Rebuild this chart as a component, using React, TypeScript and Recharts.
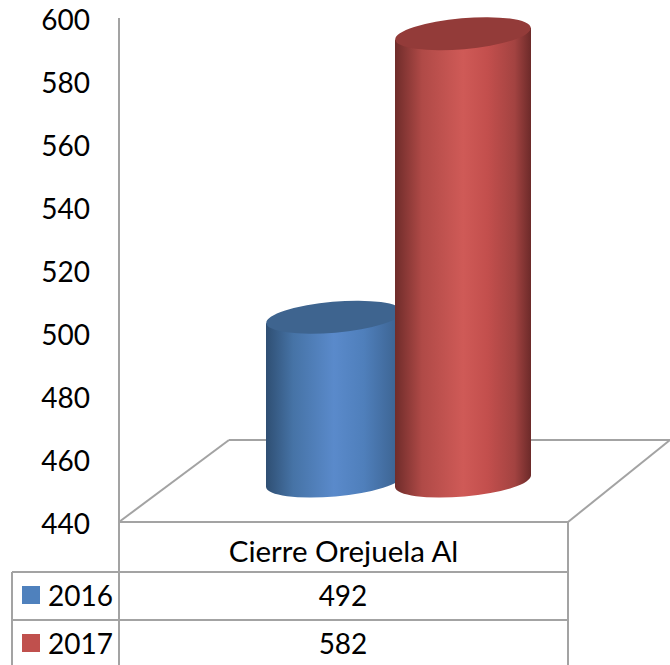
import React from "react";
import { BarChart, Bar, XAxis, YAxis } from "recharts";

const categories = ["Cierre Orejuela Al"];
const series2016 = [492];
const series2017 = [582];
const yTicks = [440, 460, 480, 500, 520, 540, 560, 580, 600];

const data = categories.map((name, i) => ({
  name,
  s2016: series2016[i],
  s2017: series2017[i],
}));

const FONT = "Lato, sans-serif";
const GRID = "#a3a3a3";
// 3D look: the bars sit in the middle of the floor, not on the front edge
const DEPTH_X = 55;
const DEPTH_Y = -41;
const TILT = 6;

const Cylinder = (props: any) => {
  const { x, y, width, height, gradient, topColor } = props;
  const left = x + DEPTH_X;
  const right = left + width;
  const top = y + DEPTH_Y;
  const bottom = top + height;
  const rx = width / 2;
  const ry = 15.5;
  const body = `M${left},${top + TILT} L${left},${bottom + TILT} A${rx},${ry} -5 0 0 ${right},${bottom - TILT} L${right},${top - TILT} Z`;
  return (
    <g>
      <path d={body} fill={`url(#${gradient})`} />
      <ellipse
        cx={left + rx}
        cy={top}
        rx={rx}
        ry={ry}
        fill={topColor}
        transform={`rotate(-5 ${left + rx} ${top})`}
      />
    </g>
  );
};

const Line = (p: { x1: number; y1: number; x2: number; y2: number }) => (
  <line {...p} stroke={GRID} strokeWidth={2} />
);

export default function App() {
  return (
    <div style={{ position: "absolute", left: 0, top: 0, width: 670, height: 665, background: "#fff" }}>
      <BarChart
        width={670}
        height={665}
        data={data}
        margin={{ top: 18, right: 102, bottom: 0, left: 0 }}
        barSize={136}
        barGap={-7}
      >
        <defs>
          <linearGradient id="blueBody" x1="0" y1="0" x2="1" y2="0">
            <stop offset="0" stopColor="#2f4f73" />
            <stop offset="0.2" stopColor="#4673a6" />
            <stop offset="0.5" stopColor="#5a8acb" />
            <stop offset="0.72" stopColor="#4f7fbb" />
            <stop offset="1" stopColor="#3a608c" />
          </linearGradient>
          <linearGradient id="redBody" x1="0" y1="0" x2="1" y2="0">
            <stop offset="0" stopColor="#6f2c2a" />
            <stop offset="0.2" stopColor="#b04a47" />
            <stop offset="0.5" stopColor="#cf5a57" />
            <stop offset="0.68" stopColor="#c34f4d" />
            <stop offset="0.88" stopColor="#a34341" />
            <stop offset="1" stopColor="#6c2a29" />
          </linearGradient>
        </defs>

        {/* floor */}
        <Line x1={119} y1={522} x2={229} y2={440} />
        <Line x1={229} y1={440} x2={670} y2={440} />
        <Line x1={568} y1={522} x2={670} y2={440} />

        {/* data table */}
        <Line x1={119} y1={522} x2={119} y2={665} />
        <Line x1={568} y1={522} x2={568} y2={665} />
        <Line x1={12} y1={572} x2={12} y2={665} />
        <Line x1={12} y1={572} x2={568} y2={572} />
        <Line x1={12} y1={620} x2={568} y2={620} />
        <rect x={22} y={586} width={18} height={18} fill="#4f81bd" />
        <rect x={22} y={634} width={18} height={18} fill="#c0504d" />
        <text x={48} y={606} fontFamily={FONT} fontSize={28} fill="#000">2016</text>
        <text x={48} y={654} fontFamily={FONT} fontSize={28} fill="#000">2017</text>
        <text x={343} y={606} textAnchor="middle" fontFamily={FONT} fontSize={28} fill="#000">{series2016[0]}</text>
        <text x={343} y={654} textAnchor="middle" fontFamily={FONT} fontSize={28} fill="#000">{series2017[0]}</text>

        <XAxis
          dataKey="name"
          stroke={GRID}
          strokeWidth={2}
          tickLine={false}
          tickSize={0}
          tickMargin={19}
          height={143}
          tick={{ fill: "#000", fontSize: 29.5, fontFamily: FONT }}
        />
        <YAxis
          width={119}
          domain={[440, 600]}
          ticks={yTicks}
          interval={0}
          stroke={GRID}
          strokeWidth={2}
          tickLine={false}
          tickSize={0}
          tickMargin={29}
          tick={{ fill: "#000", fontSize: 28, fontFamily: FONT, dy: 2 }}
        />
        <Bar
          dataKey="s2016"
          isAnimationActive={false}
          shape={(p: any) => <Cylinder {...p} gradient="blueBody" topColor="#3e648f" />}
        />
        <Bar
          dataKey="s2017"
          isAnimationActive={false}
          shape={(p: any) => <Cylinder {...p} gradient="redBody" topColor="#933b39" />}
        />
      </BarChart>
    </div>
  );
}
